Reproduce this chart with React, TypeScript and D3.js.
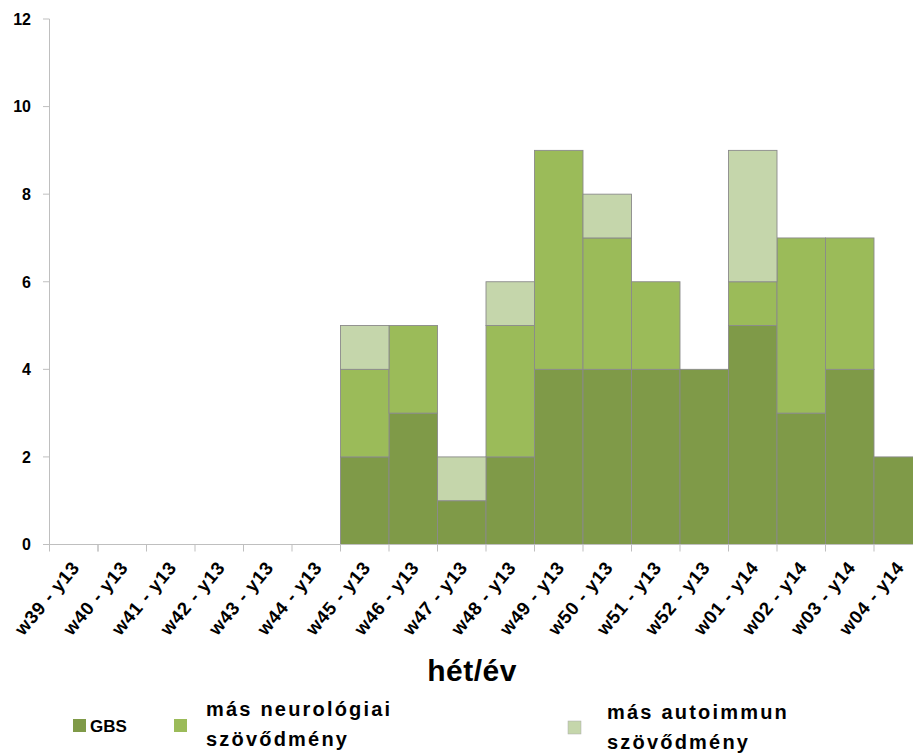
import React from "react";
import * as d3 from "d3";

const categories = [
  "w39 - y13", "w40 - y13", "w41 - y13", "w42 - y13", "w43 - y13", "w44 - y13",
  "w45 - y13", "w46 - y13", "w47 - y13", "w48 - y13", "w49 - y13", "w50 - y13",
  "w51 - y13", "w52 - y13", "w01 - y14", "w02 - y14", "w03 - y14", "w04 - y14",
];
const gbs = [0, 0, 0, 0, 0, 0, 2, 3, 1, 2, 4, 4, 4, 4, 5, 3, 4, 2];
const neuro = [0, 0, 0, 0, 0, 0, 2, 2, 0, 3, 5, 3, 2, 0, 1, 4, 3, 0];
const autoimm = [0, 0, 0, 0, 0, 0, 1, 0, 1, 1, 0, 1, 0, 0, 3, 0, 0, 0];
const yTicks = [0, 2, 4, 6, 8, 10, 12];
const seriesKeys = ["gbs", "neuro", "auto"];
const seriesColors = ["#7f9a48", "#9bbb59", "#c5d6ab"];

const W = 913;
const H = 753;

export default function App() {
  const x = d3
    .scaleBand<string>()
    .domain(categories)
    .range([49.5, 49.5 + 18 * 48.5])
    .padding(0);
  const y = d3.scaleLinear().domain([0, 12]).range([544.5, 19]);

  const rows = categories.map((c, i) => ({ cat: c, gbs: gbs[i], neuro: neuro[i], auto: autoimm[i] }));
  const stacked = d3.stack<any>().keys(seriesKeys)(rows);

  const axisColor = "#bfbfbf";
  const tickFont = "'Liberation Sans', Arial, sans-serif";

  return (
    <svg
      width={W}
      height={H}
      style={{ position: "absolute", left: 0, top: 0, background: "#fff" }}
    >
      {/* bars */}
      {stacked.map((s, si) => (
        <g key={si} fill={seriesColors[si]} stroke="#8a8a8a" strokeWidth={0.9}>
          {s.map((d, i) => {
            const h = y(d[0]) - y(d[1]);
            if (h <= 0) return null;
            return (
              <rect
                key={i}
                x={x(categories[i])!}
                y={y(d[1])}
                width={x.bandwidth()}
                height={h}
              />
            );
          })}
        </g>
      ))}

      {/* y axis */}
      <line x1={49.5} x2={49.5} y1={y(12)} y2={y(0) + 7} stroke={axisColor} strokeWidth={1} />
      {yTicks.map((t) => (
        <g key={t}>
          <line x1={43} x2={49.5} y1={y(t)} y2={y(t)} stroke={axisColor} strokeWidth={1} />
          <text
            x={31}
            y={y(t)}
            dy="0.36em"
            textAnchor="end"
            fontFamily={tickFont}
            fontWeight="bold"
            fontSize={16}
            fill="#000"
          >
            {t}
          </text>
        </g>
      ))}

      {/* x axis */}
      <line x1={49.5} x2={W} y1={y(0)} y2={y(0)} stroke={axisColor} strokeWidth={1.2} />
      {categories.map((c, i) => {
        const xx = i === 0 ? x(c)! + x.bandwidth() : x(c)!;
        return (
          <line key={"t" + i} x1={xx} x2={xx} y1={y(0)} y2={y(0) + 7} stroke={axisColor} strokeWidth={1} />
        );
      })}
      {categories.map((c, i) => {
        const cx = x(c)! + x.bandwidth() / 2 + 7;
        const cy = 568;
        return (
          <text
            key={"l" + i}
            transform={`translate(${cx},${cy}) rotate(-50)`}
            textAnchor="end"
            fontFamily={tickFont}
            fontWeight="bold"
            fontSize={18.5}
            letterSpacing={0.8}
            fill="#000"
          >
            {c}
          </text>
        );
      })}

      {/* axis title */}
      <text
        x={472}
        y={681}
        textAnchor="middle"
        fontFamily={tickFont}
        fontWeight="bold"
        fontSize={30}
        letterSpacing={0.5}
        fill="#000"
      >
        hét/év
      </text>

      {/* legend */}
      <rect x={73} y={719} width={13} height={13} fill={seriesColors[0]} />
      <text x={90} y={732} fontFamily={tickFont} fontWeight="bold" fontSize={17} fill="#000">
        GBS
      </text>

      <rect x={174} y={719} width={13} height={13} fill={seriesColors[1]} />
      <text fontFamily={tickFont} fontWeight="bold" fontSize={20} letterSpacing={2.2} fill="#000">
        <tspan x={206} y={716}>más neurológiai</tspan>
        <tspan x={206} y={746}>szövődmény</tspan>
      </text>

      <rect x={568} y={721} width={13} height={13} fill={seriesColors[2]} stroke="#aaa" strokeWidth={0.5} />
      <text fontFamily={tickFont} fontWeight="bold" fontSize={20} letterSpacing={2.2} fill="#000">
        <tspan x={607} y={719}>más autoimmun</tspan>
        <tspan x={607} y={749}>szövődmény</tspan>
      </text>
    </svg>
  );
}
